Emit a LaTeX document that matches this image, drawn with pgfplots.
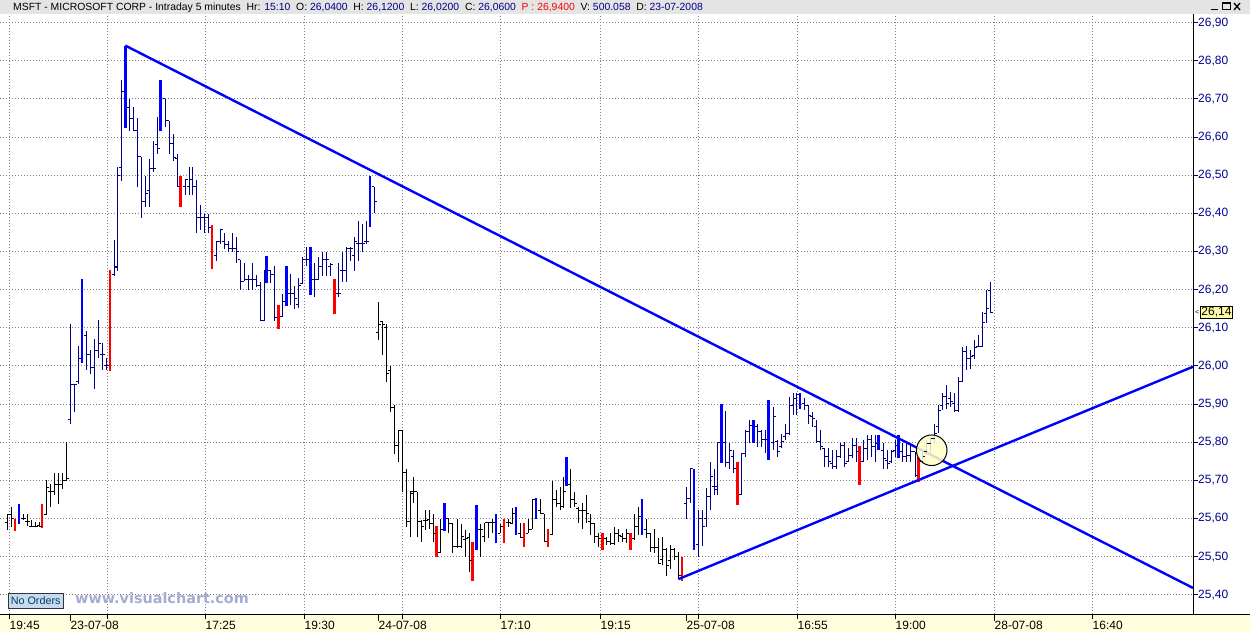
\documentclass[border=0pt]{standalone}
\usepackage{pgfplots}
\pgfplotsset{compat=1.18}
\usepackage{pgfplotstable}
\usepackage{fontspec}
\setmainfont{Liberation Sans}
\newfontfamily\wmfont{DejaVu Sans}

\definecolor{navybar}{RGB}{0,0,128}
\definecolor{labnavy}{RGB}{0,0,140}
\definecolor{hdrgray}{RGB}{228,228,228}
\definecolor{stripyel}{RGB}{255,255,221}
\definecolor{wmark}{RGB}{165,172,210}
\definecolor{nobox}{RGB}{200,218,240}
\definecolor{notext}{RGB}{0,64,96}
\definecolor{circfill}{RGB}{255,255,200}

% open tick (left) and close tick (right) of an OHLC bar
\pgfdeclareplotmark{otick}{\pgfpathmoveto{\pgfqpoint{-2.5pt}{0pt}}\pgfpathlineto{\pgfqpoint{0pt}{0pt}}\pgfusepathqstroke}
\pgfdeclareplotmark{ctick}{\pgfpathmoveto{\pgfqpoint{0pt}{0pt}}\pgfpathlineto{\pgfqpoint{2.5pt}{0pt}}\pgfusepathqstroke}

% high-low stroke drawn as a y error bar: #1 width, #2 colour
\pgfplotsset{
  hl/.style 2 args={draw=none, mark=none, forget plot,
    error bars/.cd, y dir=both, y explicit, error mark=none,
    error bar style={draw=#2, line width=#1, line cap=butt}},
}

% x = bar slot (pixel column of the 5 minute bar), o h l c = prices
% 22-07 tail and 24-07 (black)
\pgfplotstableread{
x     o      h      l      c
7.3   25.59  25.611 25.569 25.611
11.3  25.611 25.630 25.578 25.600
23.3  25.600 25.611 25.595 25.600
27.3  25.591 25.611 25.580 25.591
31.3  25.580 25.595 25.580 25.580
35.3  25.580 25.591 25.580 25.580
39.3  25.583 25.591 25.580 25.580
46    25.610 25.700 25.610 25.681
50    25.672 25.690 25.629 25.672
54    25.672 25.720 25.661 25.690
58.3  25.690 25.720 25.639 25.690
62.3  25.690 25.720 25.678 25.700
66.7  25.700 25.800 25.700 25.705
378   26.089 26.167 26.067 26.110
382   26.117 26.119 26.028 26.110
386   26.100 26.110 25.958 25.980
390   25.988 26.001 25.879 25.891
394   25.891 25.897 25.770 25.792
398   25.792 25.831 25.749 25.831
402   25.831 25.831 25.670 25.722
406   25.722 25.731 25.579 25.592
410   25.592 25.670 25.551 25.670
413.3 25.666 25.709 25.640 25.670
417.3 25.670 25.670 25.551 25.592
421.3 25.592 25.596 25.539 25.579
425.3 25.596 25.622 25.570 25.596
429.3 25.598 25.622 25.572 25.587
433.3 25.587 25.612 25.539 25.561
440.7 25.511 25.600 25.511 25.572
448.7 25.600 25.600 25.561 25.587
452.7 25.587 25.587 25.511 25.526
457.3 25.526 25.600 25.522 25.526
461.3 25.526 25.587 25.522 25.552
465.3 25.544 25.570 25.500 25.548
469.3 25.550 25.561 25.461 25.490
480.7 25.572 25.587 25.500 25.572
484.7 25.552 25.589 25.539 25.589
488.7 25.589 25.589 25.548 25.589
492.7 25.589 25.600 25.561 25.589
500   25.561 25.587 25.561 25.579
508   25.589 25.600 25.579 25.589
512   25.587 25.629 25.587 25.612
520   25.561 25.589 25.551 25.551
528   25.561 25.600 25.561 25.572
532   25.572 25.651 25.572 25.651
540   25.622 25.651 25.612 25.612
544   25.612 25.612 25.539 25.539
552   25.557 25.699 25.557 25.651
556   25.651 25.675 25.631 25.640
560   25.640 25.682 25.622 25.631
563.3 25.631 25.709 25.627 25.670
570.7 25.688 25.731 25.627 25.651
574.7 25.651 25.670 25.631 25.640
578.7 25.627 25.631 25.589 25.622
582.7 25.622 25.640 25.572 25.622
586.7 25.622 25.661 25.587 25.612
590.7 25.592 25.612 25.557 25.587
594.7 25.587 25.587 25.535 25.552
598.7 25.552 25.561 25.526 25.548
606.7 25.548 25.552 25.531 25.539
610.7 25.539 25.561 25.531 25.535
614.7 25.535 25.579 25.531 25.561
618.7 25.561 25.572 25.539 25.555
622.7 25.552 25.561 25.539 25.548
626.7 25.548 25.572 25.537 25.561
634.7 25.548 25.612 25.544 25.580
638   25.580 25.629 25.557 25.605
646   25.572 25.600 25.548 25.561
650   25.561 25.561 25.513 25.525
654   25.525 25.572 25.511 25.525
658   25.525 25.548 25.481 25.481
662   25.493 25.551 25.478 25.518
666   25.518 25.522 25.450 25.476
670   25.491 25.531 25.467 25.518
674   25.518 25.522 25.490 25.500
678   25.500 25.511 25.443 25.450
}\blackbars

% 23-07 and 25-07 (navy)
\pgfplotstableread{
x     o      h      l      c
70.3  25.860 26.111 25.849 25.951
74.3  25.951 25.951 25.880 25.951
78.3  25.960 26.052 25.954 26.020
86.3  26.080 26.092 25.989 26.030
90.3  26.030 26.041 25.980 25.995
94.3  25.995 26.070 25.940 26.041
98.3  26.040 26.120 26.020 26.060
102.3 26.030 26.060 25.990 26.030
106.3 26.000 26.020 25.990 26.000
114   26.240 26.329 26.237 26.259
117.3 26.260 26.521 26.250 26.500
121.3 26.520 26.749 26.486 26.720
129.3 26.678 26.700 26.617 26.650
133.3 26.650 26.678 26.617 26.618
137.3 26.618 26.650 26.468 26.549
141.3 26.549 26.549 26.388 26.432
145.3 26.432 26.499 26.418 26.451
149.3 26.459 26.543 26.416 26.519
153.3 26.519 26.591 26.508 26.519
157.3 26.580 26.652 26.557 26.570
165.3 26.700 26.700 26.627 26.643
169.3 26.643 26.643 26.557 26.582
173.3 26.582 26.608 26.538 26.547
177.3 26.543 26.557 26.468 26.470
185.3 26.470 26.488 26.449 26.488
189.3 26.470 26.521 26.449 26.490
192.7 26.488 26.521 26.449 26.470
196   26.470 26.488 26.348 26.388
200   26.388 26.423 26.357 26.388
204   26.388 26.399 26.348 26.388
208   26.388 26.399 26.348 26.364
216   26.289 26.327 26.276 26.327
220   26.327 26.359 26.320 26.357
224   26.327 26.350 26.307 26.318
228   26.318 26.327 26.298 26.307
232   26.307 26.350 26.298 26.307
236   26.307 26.338 26.269 26.300
240   26.278 26.278 26.200 26.222
244   26.222 26.269 26.222 26.228
248   26.228 26.239 26.200 26.228
252   26.228 26.269 26.200 26.228
256   26.228 26.239 26.208 26.211
260   26.211 26.220 26.119 26.119
264   26.119 26.250 26.119 26.250
270.7 26.250 26.250 26.217 26.239
274.7 26.239 26.261 26.119 26.128
282.7 26.130 26.189 26.128 26.170
290.7 26.189 26.242 26.161 26.189
294.7 26.189 26.211 26.150 26.176
298.7 26.161 26.231 26.153 26.211
302.7 26.217 26.287 26.217 26.278
306.7 26.278 26.311 26.261 26.278
314.7 26.228 26.269 26.180 26.228
318.7 26.228 26.285 26.228 26.261
322.7 26.261 26.298 26.237 26.278
326.7 26.278 26.298 26.237 26.278
330.7 26.260 26.269 26.237 26.265
338.7 26.189 26.269 26.180 26.189
342.7 26.250 26.298 26.220 26.250
346.7 26.250 26.311 26.220 26.307
350.7 26.307 26.311 26.276 26.307
354.7 26.290 26.338 26.250 26.327
358.7 26.320 26.381 26.276 26.320
362.7 26.320 26.372 26.298 26.320
366.7 26.327 26.381 26.320 26.327
374   26.470 26.470 26.400 26.432
686   25.640 25.683 25.600 25.653
690   25.653 25.731 25.640 25.731
698   25.531 25.622 25.500 25.600
702   25.600 25.622 25.528 25.579
706   25.600 25.679 25.579 25.657
710   25.657 25.749 25.622 25.710
714   25.683 25.731 25.662 25.683
717.3 25.675 25.799 25.662 25.799
725.3 25.799 25.881 25.736 25.746
729.3 25.746 25.799 25.731 25.779
733.3 25.762 25.779 25.720 25.731
741.3 25.662 25.771 25.662 25.771
745.3 25.771 25.832 25.762 25.827
749.3 25.827 25.858 25.797 25.845
757.3 25.840 25.849 25.788 25.827
761.3 25.827 25.832 25.788 25.806
765.3 25.806 25.832 25.771 25.806
773.3 25.800 25.893 25.779 25.867
777.3 25.801 25.806 25.762 25.775
781.3 25.788 25.823 25.784 25.801
785.3 25.814 25.849 25.806 25.823
789.3 25.823 25.919 25.819 25.897
793.3 25.897 25.929 25.871 25.915
796.7 25.915 25.929 25.871 25.925
804   25.902 25.915 25.884 25.897
808   25.897 25.897 25.849 25.871
812   25.867 25.880 25.840 25.862
816   25.840 25.858 25.799 25.801
820   25.801 25.832 25.779 25.788
824   25.784 25.784 25.736 25.762
828   25.762 25.784 25.736 25.749
832   25.745 25.779 25.731 25.736
836   25.736 25.779 25.731 25.762
840   25.762 25.797 25.758 25.792
844   25.792 25.801 25.736 25.745
848   25.749 25.784 25.749 25.766
852   25.766 25.810 25.758 25.792
856   25.792 25.810 25.749 25.775
863.3 25.750 25.806 25.749 25.784
867.3 25.784 25.819 25.753 25.806
871.3 25.806 25.819 25.762 25.788
875.3 25.788 25.819 25.749 25.797
883.3 25.779 25.797 25.731 25.758
887.3 25.753 25.779 25.731 25.745
891.3 25.749 25.779 25.745 25.775
895.3 25.779 25.806 25.762 25.792
902.7 25.775 25.797 25.749 25.762
906.7 25.762 25.797 25.749 25.766
910.7 25.766 25.792 25.749 25.775
915.3 25.775 25.775 25.710 25.714
922.7 25.749 25.779 25.745 25.762
926.7 25.775 25.806 25.766 25.797
930.7 25.797 25.814 25.775 25.810
934.7 25.810 25.849 25.797 25.823
938.7 25.840 25.897 25.823 25.884
942.7 25.897 25.929 25.884 25.919
946.7 25.919 25.950 25.886 25.902
950.7 25.915 25.932 25.893 25.906
954.7 25.902 25.928 25.880 25.884
958   25.884 25.970 25.880 25.958
962   25.958 26.050 25.958 26.037
966   26.037 26.052 25.989 26.019
970   26.019 26.041 25.993 26.024
974   26.028 26.067 26.019 26.048
978   26.052 26.080 26.050 26.052
982   26.052 26.142 26.050 26.113
986   26.137 26.200 26.113 26.150
990   26.198 26.220 26.139 26.139
}\navybars

% wide up bars (blue)
\pgfplotstableread{
x     h      l
19    25.639 25.585
82    26.229 26.008
125.3 26.839 26.625
160.7 26.749 26.617
266.7 26.289 26.217
286.7 26.261 26.156
310.7 26.311 26.185
370   26.499 26.365
444.7 25.640 25.568
476.7 25.635 25.518
496   25.612 25.537
516   25.629 25.557
536   25.653 25.598
566.7 25.762 25.685
642   25.651 25.557
694   25.731 25.518
721.3 25.900 25.746
753.3 25.858 25.797
768.7 25.910 25.753
800   25.929 25.886
878.7 25.819 25.779
898.7 25.819 25.758
}\bluebars

% wide down bars (red)
\pgfplotstableread{
x     h      l
15    25.600 25.567
42    25.639 25.575
110   26.251 25.987
180.7 26.499 26.416
212   26.371 26.255
278.7 26.161 26.096
334.7 26.228 26.135
436.7 25.580 25.498
472.7 25.539 25.437
504   25.600 25.537
524   25.589 25.526
548   25.572 25.526
602.7 25.561 25.518
630.7 25.563 25.518
682   25.500 25.437
737.3 25.749 25.635
859.3 25.790 25.688
918.7 25.762 25.697
}\redbars

\newcommand{\ohlc}[2]{%
  \addplot[hl={1pt}{#2}] table[x=x, y expr={(\thisrow{h}+\thisrow{l})/2},
    y error expr={(\thisrow{h}-\thisrow{l})/2}] {#1};
  \addplot[#2, only marks, mark=otick, mark options={line width=1pt}, forget plot] table[x=x, y=o] {#1};
  \addplot[#2, only marks, mark=ctick, mark options={line width=1pt}, forget plot] table[x=x, y=c] {#1};
}
\newcommand{\widebars}[2]{%
  \addplot[hl={2.6pt}{#2}] table[x=x, y expr={(\thisrow{h}+\thisrow{l})/2},
    y error expr={(\thisrow{h}-\thisrow{l})/2}] {#1};
}

\begin{document}
\begin{tikzpicture}[x=1pt, y=1pt]
\useasboundingbox (0,0) rectangle (1250,632);
\fill[white] (0,0) rectangle (1250,632);
\fill[stripyel] (0,0) rectangle (1250,18);
\fill[hdrgray] (0,617.5) rectangle (1250,632);

\begin{axis}[
  at={(0pt,18pt)}, anchor=south west,
  scale only axis, width=1193pt, height=599.5pt,
  xmin=0, xmax=1193, ymin=25.3497, ymax=26.9215,
  axis x line*=bottom, axis y line*=right,
  axis line style={black, line width=1pt},
  clip=false,
  tick align=outside,
  major tick length=5pt,
  xtick={9,107,205,304,402,500,600,698,797,895,994,1092},
  xticklabels={19:45,,17:25,19:30,,17:10,19:15,,16:55,19:00,,16:40},
  extra x ticks={70,378,686,994},
  extra x tick labels={23-07-08,24-07-08,25-07-08,28-07-08},
  extra x tick style={grid=none, major tick length=7pt,
    xticklabel style={yshift=2pt}},
  x tick style={black, line width=1pt},
  xticklabel style={anchor=north west, inner sep=0pt, xshift=0.5pt, yshift=-2pt,
    font=\fontsize{12}{12}\selectfont},
  ytick={25.4,25.5,25.6,25.7,25.8,25.9,26.0,26.1,26.2,26.3,26.4,26.5,26.6,26.7,26.8,26.9},
  y tick style={labnavy, line width=1pt},
  yticklabel style={anchor=west, inner sep=0pt, text=labnavy,
    font=\fontsize{12}{12}\selectfont,
    /pgf/number format/.cd, fixed, fixed zerofill, precision=2, use comma,
    assume math mode=true},
  xmajorgrids, ymajorgrids,
  major grid style={gray, line width=1pt, dash pattern=on 1pt off 2pt},
]

% highlight circle
\addplot[only marks, mark=*, mark size=15.3pt, forget plot,
  mark options={draw=black, line width=1pt, fill=circfill, fill opacity=0.85}]
  coordinates {(931.7,25.779)};

\ohlc{\blackbars}{black}
\ohlc{\navybars}{navybar}
\widebars{\bluebars}{blue}
\widebars{\redbars}{red}

% trend lines
\addplot[blue, line width=2.4pt, forget plot] coordinates {(125.3,26.84) (1193,25.418)};
\addplot[blue, line width=2.4pt, forget plot] coordinates {(678.3,25.441) (1193,25.998)};

% last price box
\node[anchor=west, draw=black, line width=0.8pt, fill=yellow!35, inner sep=1pt,
  font=\fontsize{12}{12}\selectfont] at (axis cs:1193,26.14) [xshift=7pt] {26,14};
\node[anchor=west, inner sep=0pt, font=\fontsize{7}{7}\selectfont] at (axis cs:1193,26.14) [xshift=2pt] {<};
\end{axis}

% full-width bottom rule
\draw[black, line width=1pt] (0,18) -- (1250,18);

% header
\node[anchor=base west, inner sep=0pt, font=\fontsize{10.4}{12}\selectfont] at (13,621.3)
  {MSFT - MICROSOFT CORP - Intraday 5 minutes\ \ Hr: \textcolor{labnavy}{15:10}\ \ O: \textcolor{labnavy}{26,0400}\ \ H: \textcolor{labnavy}{26,1200}\ \ L: \textcolor{labnavy}{26,0200}\ \ C: \textcolor{labnavy}{26,0600}\ \ \textcolor{red}{P : 26,9400}\ \ V: \textcolor{labnavy}{500.058}\ \ D: \textcolor{labnavy}{23-07-2008}};
% window buttons
\draw[line width=1.6pt] (1211,622.5) -- (1218,622.5);
\draw[line width=1pt] (1222.5,622) rectangle (1230,629);
\draw[line width=2pt] (1222.5,628.5) -- (1230,628.5);
\draw[line width=1.3pt] (1234,622) -- (1240,629) (1234,629) -- (1240,622);

% footer badges
\node[anchor=south west, draw=black!80, fill=nobox, text=notext, inner sep=0pt,
  minimum width=55pt, minimum height=15pt, font=\fontsize{10.8}{11}\selectfont] at (8,24) {No Orders};
\node[anchor=base west, inner sep=0pt, text=wmark, font=\wmfont\bfseries\fontsize{14.4}{15}\selectfont]
  at (75,29) {www.visualchart.com};
\end{tikzpicture}
\end{document}
